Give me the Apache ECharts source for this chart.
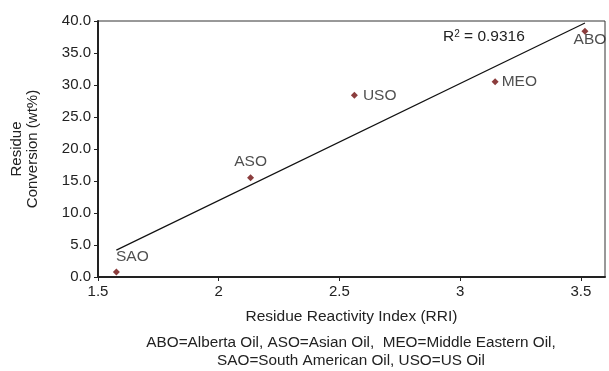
<!DOCTYPE html>
<html>
<head>
<meta charset="utf-8">
<script src="https://cdn.jsdelivr.net/npm/echarts@6/dist/echarts.min.js"></script>
<style>
  html, body { margin: 0; padding: 0; background: #fff; }
  #chart { width: 609px; height: 371px; }
</style>
</head>
<body>
<div id="chart"></div>
<script>
// oils and their measured values
const oilNames = ["SAO", "ASO", "USO", "MEO", "ABO"];
const rriValues = [1.576, 2.132, 2.562, 3.145, 3.517];
const conversionValues = [0.8, 15.5, 28.4, 30.5, 38.4];
// trend line end points
const trendX = [1.576, 3.517];
const trendY = [4.2, 39.7];
const r2Text = "0.9316";

const FONT = "Liberation Sans, Arial, sans-serif";
const labelPos = {
  SAO: { position: "top", offset: [16, 1] },
  ASO: { position: "top", offset: [0, 0] },
  USO: { position: "right", distance: 5 },
  MEO: { position: "right", distance: 3 },
  ABO: { position: "bottom", offset: [5, -8] }
};

const points = oilNames.map((name, i) => ({
  name: name,
  value: [rriValues[i], conversionValues[i]],
  label: Object.assign({ show: true, formatter: "{b}" }, labelPos[name])
}));

const chart = echarts.init(document.getElementById("chart"), null, { renderer: "canvas" });
chart.setOption({
  animation: false,
  textStyle: { fontFamily: FONT },
  grid: {
    left: 98, top: 21, right: 4, bottom: 94,
    show: true, borderColor: "#333", borderWidth: 1
  },
  xAxis: {
    type: "value",
    min: 1.5, max: 3.6, interval: 0.5,
    name: "Residue Reactivity Index (RRI)",
    nameLocation: "middle", nameGap: 32,
    nameTextStyle: { fontSize: 15.5, color: "#222", fontFamily: FONT },
    axisLine: { onZero: false, lineStyle: { color: "#222", width: 2 } },
    axisTick: { show: true, length: 4, lineStyle: { color: "#222", width: 1 } },
    axisLabel: { fontSize: 15, color: "#222", margin: 7, fontFamily: FONT,
      showMaxLabel: false },
    splitLine: { show: false }
  },
  yAxis: {
    type: "value",
    min: 0, max: 40, interval: 5,
    name: "Residue\nConversion (wt%)",
    nameLocation: "middle", nameGap: 57,
    nameTextStyle: { fontSize: 15, color: "#222", lineHeight: 16, fontFamily: FONT },
    axisLine: { show: true, onZero: false, lineStyle: { color: "#222", width: 2 } },
    axisTick: { show: true, length: 4, lineStyle: { color: "#222", width: 1 } },
    axisLabel: { fontSize: 15, color: "#222", margin: 7, fontFamily: FONT,
      formatter: v => v.toFixed(1) },
    splitLine: { show: false }
  },
  series: [
    {
      type: "line",
      data: trendX.map((x, i) => [x, trendY[i]]),
      symbol: "none",
      lineStyle: { color: "#111", width: 1.2 },
      z: 2
    },
    {
      type: "scatter",
      data: points,
      symbol: "diamond",
      symbolSize: 7,
      itemStyle: { color: "#6e0c0c" },
      label: { fontSize: 15.5, color: "#222", fontFamily: FONT },
      z: 3
    }
  ],
  graphic: [
    {
      type: "text",
      left: 443, top: 29,
      style: {
        text: "{n|R}{s|2}{n| = " + r2Text + "}",
        rich: {
          n: { fontSize: 15.5, fill: "#222", fontFamily: FONT, verticalAlign: "bottom" },
          s: { fontSize: 10, fill: "#222", fontFamily: FONT, verticalAlign: "top", padding: [0, 0, 6, 0] }
        }
      }
    },
    {
      type: "text",
      x: 351, y: 352,
      style: {
        text: "ABO=Alberta Oil, ASO=Asian Oil,  MEO=Middle Eastern Oil,\nSAO=South American Oil, USO=US Oil",
        fontSize: 15.3, lineHeight: 18, fill: "#222", fontFamily: FONT,
        align: "center", verticalAlign: "middle"
      }
    }
  ]
});
</script>
</body>
</html>
